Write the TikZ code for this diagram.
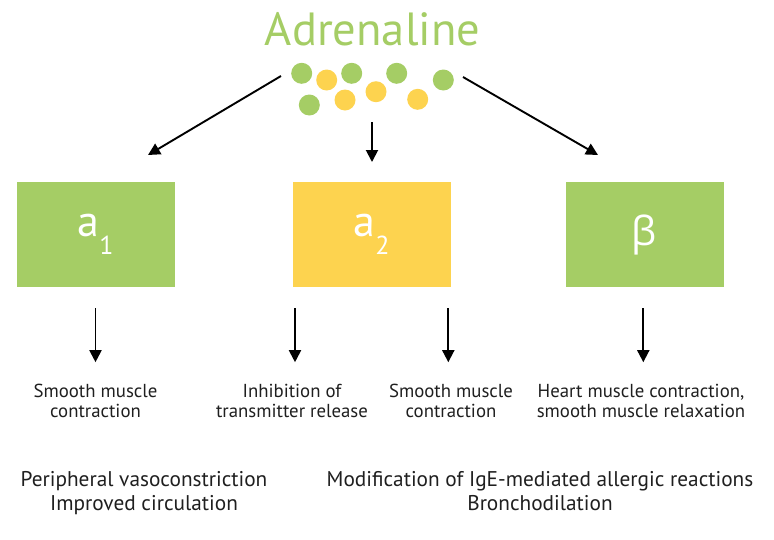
\documentclass[tikz,border=0pt]{standalone}
\usepackage{fontspec}
\setmainfont{PT Sans}
\newfontfamily\greekfont{Open Sans}
\usetikzlibrary{arrows.meta}
\definecolor{adrgreen}{HTML}{A5CD65}
\definecolor{adryellow}{HTML}{FDD34F}
\colorlet{txtcol}{black!88}

\begin{document}
\begin{tikzpicture}[x=1pt, y=-1pt,
	    box/.style={minimum width=158pt, minimum height=105pt, inner sep=0pt, text=white, font=\fontsize{44}{44}\selectfont},
	    dot/.style={circle, minimum size=21pt, inner sep=0pt},
	    effect/.style={align=center, anchor=base, inner sep=0pt, text=txtcol, font=\fontsize{18.8}{20}\selectfont},
	    result/.style={align=center, anchor=base, inner sep=0pt, text=txtcol, font=\fontsize{21.3}{23.3}\selectfont},
	    arr/.style={-{Triangle[length=12pt,width=12pt]}, line width=1.9pt}]
	\useasboundingbox (0,0) rectangle (774,539);

	\node[anchor=base, inner sep=0pt, text=adrgreen, font=\fontsize{46.5}{46.5}\selectfont] (adr) at (372.5,45) {Adrenaline}; % title

	% molecules
	\foreach \x/\y/\c [count=\i] in {301.7/73.3/adrgreen, 326.7/80/adryellow, 351.7/73.3/adrgreen, 396.7/73.3/adrgreen, 443.3/80/adrgreen,
	                                   309.3/105/adrgreen, 345/100/adryellow, 376/91.7/adryellow, 417.7/99.3/adryellow}
		\node[dot, fill=\c] (d\i) at (\x,\y) {};

	% receptors
	\node[box, fill=adrgreen] (a1) at (95.5,234.5) {a\raisebox{-0.42em}{\fontsize{26}{26}\selectfont 1}};
	\node[box, fill=adryellow] (a2) at (371.5,234.5) {a\raisebox{-0.42em}{\fontsize{26}{26}\selectfont 2}};
	\node[box, fill=adrgreen] (b) at (644.5,234.5) {\greekfont\fontsize{40}{40}\selectfont β};

	\coordinate (l0) at (281,76);  \coordinate (l1) at (148,155);
	\coordinate (m0) at (372,122); \coordinate (m1) at (372,162);
	\coordinate (r0) at (463,77);  \coordinate (r1) at (598,155);
	\draw[arr] (l0) -- (l1);
	\draw[arr] (m0) -- (m1);
	\draw[arr] (r0) -- (r1);

	% effects (base = last line)
	\node[effect] (e1) at (95.5,417.3) {Smooth muscle\\contraction};
	\node[effect] (e2) at (292,417.3) {Inhibition of\\transmitter release};
	\node[effect] (e3) at (451,417.3) {Smooth muscle\\contraction};
	\node[effect] (e4) at (641,417.3) {Heart muscle contraction,\\smooth muscle relaxation};

	\draw[arr, shorten <=21pt] (a1.south) -- ++(0,75) coordinate (t1);
	\draw[arr, shorten <=21pt] (a2.south -| 295,0) -- ++(0,75) coordinate (t2);
	\draw[arr, shorten <=21pt] (a2.south -| 448.3,0) -- ++(0,75) coordinate (t3);
	\draw[arr, shorten <=21pt] (b.south -| 643.3,0) -- ++(0,75) coordinate (t4);

	% results
	\node[result] (res1) at (144,510) {Peripheral vasoconstriction\\Improved circulation};
	\node[result] (res2) at (540,510) {Modification of IgE-mediated allergic reactions\\Bronchodilation};
\end{tikzpicture}
\end{document}
